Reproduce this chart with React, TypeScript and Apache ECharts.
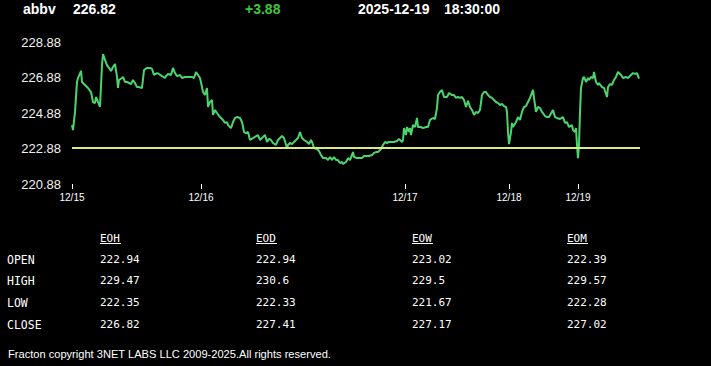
import React, { useEffect, useRef } from "react";
import * as echarts from "echarts";

// ---- data ----
const symbol = "abbv";
const lastPrice = "226.82";
const change = "+3.88";
const dateText = "2025-12-19";
const timeText = "18:30:00";
const prevClose = 222.94;

const yTicks = [220.88, 222.88, 224.88, 226.88, 228.88];

const dayTicks = [0, 129, 333, 437, 506];
const dayLabels = ["12/15", "12/16", "12/17", "12/18", "12/19"];

const slots = [
  0, 1, 3, 5, 6, 9, 10, 13, 16, 19, 21, 23, 24, 26, 28, 30, 31, 33, 35, 37, 39, 41, 43, 45, 46, 47, 50, 51, 53, 55, 57, 59, 61, 63, 65, 67, 70, 72, 75, 78, 80, 82, 85, 87, 90, 93,
  94, 96, 99, 101, 103, 105, 108, 110, 113, 116, 120, 122, 124, 126, 128, 130, 131, 133, 135, 136, 138, 140, 141, 143, 145, 148, 151, 153, 155, 156, 159, 161, 163, 165, 168, 170, 172, 174, 176, 178, 181, 183,
  186, 188, 190, 193, 195, 197, 199, 201, 204, 206, 208, 210, 212, 215, 216, 218, 220, 222, 224, 226, 228, 230, 232, 235, 237, 239, 240, 242, 245, 247, 249, 251, 254, 256, 258, 260, 262, 264, 266, 268, 270, 271, 274, 276, 278,
  281, 282, 285, 287, 290, 292, 295, 297, 300, 302, 304, 306, 309, 311, 313, 315, 317, 320, 322, 325, 327, 330, 331, 332, 334, 335, 337, 338, 339, 341, 343, 345, 346, 349, 351, 354, 356, 358, 361, 363, 365, 366, 368, 370, 372, 375, 377,
  380, 382, 384, 386, 388, 390, 392, 394, 396, 398, 400, 402, 404, 406, 408, 410, 412, 414, 416, 418, 420, 422, 424, 426, 428, 430, 432, 434, 435, 436, 437, 439, 440, 441, 444, 446, 448, 450, 452, 454, 456, 458, 461, 462, 464, 466, 468, 470, 473,
  475, 477, 481, 483, 485, 488, 491, 493, 495, 497, 500, 501, 503, 504, 505, 506, 507, 508, 509, 511, 512, 514, 516, 517, 519, 521, 522, 524, 526, 527, 530, 532, 535, 536, 538, 540, 542, 544, 546, 549, 551, 554, 556, 559, 561, 563, 565, 567,
];

const prices = [
  224.2, 223.92, 224.94, 226.63, 226.85, 227.25, 226.63, 226.46, 226.29, 226.06, 225.5, 225.44, 225.78, 225.5, 225.22, 227.58, 228.2, 227.87, 227.58, 227.42, 227.25, 227.47, 227.64, 226.91, 226.29, 226.74, 226.85, 226.91, 226.63, 226.63, 226.57, 226.51, 226.74, 226.57, 226.34, 226.34, 226.29, 227.3, 227.42, 227.42, 227.36, 227.02, 227.13, 227.08, 226.96, 226.85,
  226.96, 227.08, 227.02, 227.42, 227.13, 226.96, 227.02, 226.85, 226.91, 226.91, 226.91, 226.85, 227.19, 227.02, 226.85, 226.34, 226.06, 225.89, 226.29, 225.22, 225.5, 225.61, 224.77, 225.05, 224.88, 224.65, 224.49, 224.32, 224.37, 224.2, 224.03, 224.37, 224.6, 224.65, 224.6, 224.37, 223.81, 223.75, 223.81, 223.36, 223.47, 223.53,
  223.64, 223.36, 223.47, 223.64, 223.25, 223.42, 223.36, 223.19, 223.08, 223.36, 223.47, 223.58, 223.47, 222.91, 223.08, 223.19, 223.13, 223.25, 223.36, 223.47, 223.81, 223.47, 223.36, 223.25, 223.13, 223.36, 223.25, 222.91, 222.85, 222.74, 222.51, 222.34, 222.34, 222.23, 222.4, 222.23, 222.4, 222.23, 222.23, 222.06, 222.12, 222.01, 222.12, 222.34, 222.23,
  222.68, 222.4, 222.34, 222.34, 222.34, 222.46, 222.46, 222.46, 222.51, 222.63, 222.68, 222.68, 222.85, 223.08, 223.25, 223.19, 223.25, 223.25, 223.25, 223.3, 223.42, 223.25, 223.36, 224.03, 223.64, 224.09, 223.81, 224.03, 223.64, 224.2, 224.09, 224.6, 224.09, 224.09, 224.03, 224.09, 224.09, 224.49, 224.6, 224.54, 225.16, 225.89, 226.06, 226.18, 225.78, 225.78, 226.01,
  225.89, 225.89, 225.73, 225.78, 225.73, 225.78, 225.61, 225.22, 225.56, 225.22, 225.05, 224.77, 224.94, 224.88, 225.05, 225.89, 226.06, 226.06, 225.89, 225.78, 225.73, 225.61, 225.5, 225.44, 225.33, 225.39, 225.27, 225.22, 224.94, 223.81, 223.13, 223.81, 224.32, 224.09, 224.37, 224.65, 224.49, 224.94, 225.22, 225.27, 225.5, 225.73, 226.18, 225.73, 224.94, 225.22, 225.16, 224.94, 224.71,
  224.65, 224.65, 225.05, 224.65, 224.6, 224.54, 224.65, 224.32, 224.37, 224.09, 224.2, 223.92, 223.81, 224.03, 223.08, 222.34, 223.08, 224.94, 226.29, 226.85, 226.91, 226.63, 226.85, 226.74, 226.91, 226.85, 227.19, 226.63, 226.46, 226.57, 226.34, 226.29, 225.78, 226.34, 226.51, 226.46, 226.74, 226.91, 227.19, 227.02, 226.85, 226.91, 226.85, 227.02, 227.13, 227.08, 227.13, 226.82,
];

const tableColumns = ["EOH", "EOD", "EOW", "EOM"];
const tableRows = ["OPEN", "HIGH", "LOW", "CLOSE"];
const eohValues = [222.94, 229.47, 222.35, 226.82];
const eodValues = [222.94, 230.6, 222.33, 227.41];
const eowValues = [223.02, 229.5, 221.67, 227.17];
const eomValues = [222.39, 229.57, 222.28, 227.02];
const footerText = "Fracton copyright 3NET LABS LLC 2009-2025.All rights reserved.";

export default function App() {
  const ref = useRef<HTMLDivElement>(null);

  useEffect(() => {
    document.body.style.margin = "0";
    document.body.style.background = "#000";
    if (!ref.current) return;
    const chart = echarts.init(ref.current, null, { renderer: "svg" });

    const headFont = "bold 14px 'Liberation Sans', Arial, sans-serif";
    const monoFamily = "'DejaVu Sans Mono', 'Liberation Mono', monospace";
    const colX = [100, 256, 412, 567];
    const rowY = [260, 281, 303, 325];
    const colValues = [eohValues, eodValues, eowValues, eomValues];

    const graphics: any[] = [
      { type: "text", left: 23, top: 2, style: { text: symbol, font: headFont, fill: "#fff" } },
      { type: "text", left: 73, top: 2, style: { text: lastPrice, font: headFont, fill: "#fff" } },
      { type: "text", left: 245, top: 2, style: { text: change, font: headFont, fill: "#3cc83c" } },
      { type: "text", left: 358, top: 2, style: { text: dateText, font: headFont, fill: "#fff" } },
      { type: "text", left: 444, top: 2, style: { text: timeText, font: headFont, fill: "#fff" } },
      {
        type: "text",
        left: 8,
        top: 348,
        style: { text: footerText, font: "11.1px 'Liberation Sans', Arial, sans-serif", fill: "#fff" },
      },
    ];

    tableColumns.forEach((c, i) => {
      graphics.push({
        type: "text",
        x: colX[i],
        y: 238,
        style: { text: c, fontFamily: monoFamily, fontSize: 11, fill: "#fff", verticalAlign: "middle" },
      });
      graphics.push({
        type: "line",
        shape: { x1: colX[i], y1: 243.5, x2: colX[i] + 21, y2: 243.5 },
        style: { stroke: "#fff", lineWidth: 1 },
      });
      colValues[i].forEach((v, r) => {
        graphics.push({
          type: "text",
          x: colX[i],
          y: rowY[r] - 1,
          style: { text: String(v), fontFamily: monoFamily, fontSize: 11, fill: "#fff", verticalAlign: "middle" },
        });
      });
    });
    tableRows.forEach((r, i) => {
      graphics.push({
        type: "text",
        x: 7,
        y: rowY[i],
        style: { text: r, fontFamily: monoFamily, fontSize: 11.5, fill: "#fff", verticalAlign: "middle" },
      });
    });

    chart.setOption({
      animation: false,
      backgroundColor: "#000",
      grid: { left: 72, right: 71, top: 42, bottom: 182 },
      xAxis: {
        type: "value",
        min: 0,
        max: 568,
        axisLine: { show: false },
        splitLine: { show: false },
        axisTick: {
          show: true,
          customValues: dayTicks,
          length: 5,
          lineStyle: { color: "#fff", width: 1 },
        },
        axisLabel: {
          customValues: dayTicks,
          formatter: (v: number) => dayLabels[dayTicks.indexOf(v)] ?? "",
          color: "#fff",
          fontSize: 10,
          margin: 8,
          fontFamily: "'Liberation Sans', Arial, sans-serif",
        },
      },
      yAxis: {
        type: "value",
        min: yTicks[0],
        max: yTicks[yTicks.length - 1],
        interval: 2,
        axisLine: { show: false },
        axisTick: { show: false },
        splitLine: { show: false },
        axisLabel: {
          color: "#f0f0f0",
          fontSize: 13,
          margin: 11,
          fontFamily: "'Liberation Sans', Arial, sans-serif",
          formatter: (v: number) => v.toFixed(2),
        },
      },
      series: [
        {
          type: "line",
          data: slots.map((s, i) => [s, prices[i]]),
          showSymbol: false,
          lineStyle: { color: "#4cd46e", width: 2 },
          markLine: {
            silent: true,
            symbol: ["none", "none"],
            label: { show: false },
            lineStyle: { color: "#dfea7c", width: 2, type: "solid" },
            data: [{ yAxis: prevClose }],
          },
        },
      ],
      graphic: graphics,
    });

    return () => chart.dispose();
  }, []);

  return (
    <div
      ref={ref}
      style={{ position: "fixed", left: 0, top: 0, width: 711, height: 366, background: "#000" }}
    />
  );
}
